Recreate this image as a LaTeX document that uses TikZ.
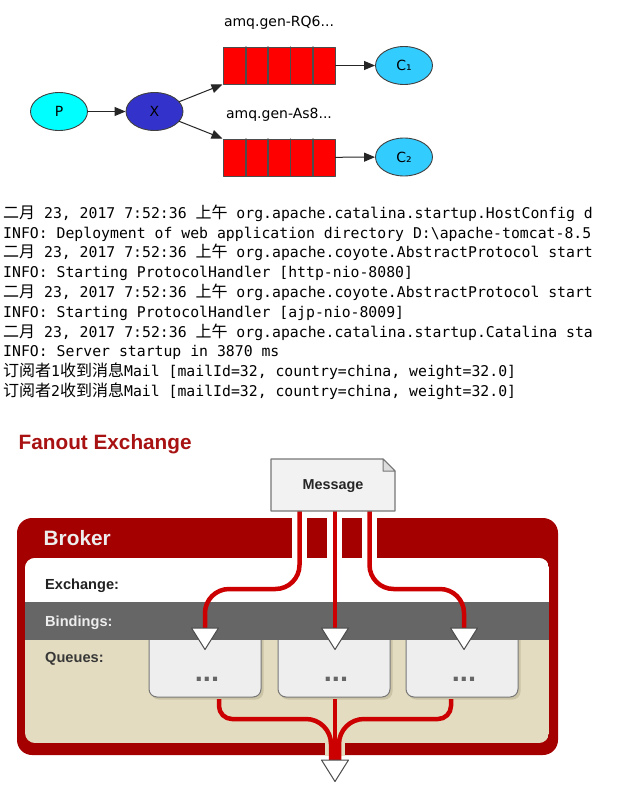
\documentclass[tikz,border=0pt]{standalone}
\usepackage{fontspec}
\setmainfont{Liberation Sans}
\newfontfamily\dejavu{DejaVu Sans}
\newfontfamily\logmono{DejaVu Sans Mono}
\newfontfamily\cjkfont{Noto Sans CJK SC}
\usepackage{tikz}
\usetikzlibrary{arrows.meta,shapes.geometric}

\definecolor{brokerred}{HTML}{A50000}
\definecolor{wirered}{HTML}{CC0000}
\definecolor{titlered}{HTML}{A81212}
\definecolor{bandgray}{HTML}{666666}
\definecolor{queuebeige}{HTML}{E3DCC0}
\definecolor{shadebeige}{HTML}{CBC3A5}
\definecolor{boxgray}{HTML}{EEEEEE}
\definecolor{edgegray}{HTML}{777777}
\definecolor{msgfill}{HTML}{F2F2F2}
\definecolor{foldgray}{HTML}{DDDDDD}
\definecolor{pcyan}{HTML}{00FFFF}
\definecolor{xblue}{HTML}{3333CC}
\definecolor{cblue}{HTML}{33CCFF}

\newcommand{\zh}[1]{{\cjkfont\fontsize{16}{20}\selectfont #1}}

\begin{document}
\begin{tikzpicture}[
			x=1pt,
			y=-1pt,
			line cap=round,
			line join=round,
			every node/.style={inner sep=0pt},
			peer/.style={ellipse,draw=black!75,line width=0.9pt,minimum width=57pt,minimum height=38pt,font=\dejavu\fontsize{14}{16}\selectfont},
			qcells/.style={draw=black!70,fill=red,line width=1pt,minimum width=112pt,minimum height=37pt},
			qname/.style={font=\dejavu\fontsize{14}{16}\selectfont},
			flow/.style={-{Triangle[length=11pt,width=9pt]},line width=1pt,draw=black!85},
			logline/.style={anchor=base west,font=\logmono\fontsize{14.8}{19.8}\selectfont},
			wire/.style={draw=wirered,line width=4.5pt,line cap=butt},
			droptip/.style={fill=white,draw=black!70,line width=1pt},
			boxlbl/.style={anchor=base west,font=\bfseries\fontsize{14.6}{16}\selectfont},
			qdots/.style={anchor=base,text=bandgray,font=\bfseries\fontsize{29}{30}\selectfont}
			]
			
			\def\TipHalf{13.5}
			\def\TipDrop{21.5}
			
			\newcommand{\DropTip}[2]{%
				\draw[droptip] (#1-\TipHalf,#2) -- (#1+\TipHalf,#2) -- (#1,#2+\TipDrop) -- cycle;
			}
			
			\useasboundingbox (0,0) rectangle (639,785);
			\fill[white] (0,0) rectangle (639,785);
			
			% Fanout graph
			\node[peer,fill=pcyan] (P) at (59,111.5) {P};
			\node[peer,fill=xblue] (X) at (154.5,111.5) {X};
			\node[qcells] (q1) at (279,65.5) {};
			\node[qcells] (q2) at (279,157.5) {};
			\foreach \dx in {23,45,67.5,90} {
				\draw[black!70,line width=1.2pt] (223+\dx,47) -- (223+\dx,84);
				\draw[black!70,line width=1.2pt] (223+\dx,139) -- (223+\dx,176);
			}
			\node[qname] (nq1) at (279,23) {amq.gen-RQ6...};
			\node[qname] (nq2) at (279,115) {amq.gen-As8...};
			\node[peer,fill=cblue] (C1) at (404,65.5) {C₁};
			\node[peer,fill=cblue] (C2) at (404,157) {C₂};
			\draw[flow] (P) -- (X);
			\draw[flow] (X) -- (q1.south west);
			\draw[flow] (X) -- (q2.north west);
			\draw[flow] (q1) -- (C1);
			\draw[flow] (q2) -- (C2);
			
			% Console output
			\begin{scope}
				\clip (0,195) rectangle (591,405);
				\node[logline] (log1) at (3,218.3) {\zh{二月} 23, 2017 7:52:36 \zh{上午} org.apache.catalina.startup.HostConfig d};
				\node[logline] (log2) at (3,238.1) {INFO: Deployment of web application directory D:\textbackslash apache-tomcat-8.5};
				\node[logline] (log3) at (3,257.9) {\zh{二月} 23, 2017 7:52:36 \zh{上午} org.apache.coyote.AbstractProtocol start};
				\node[logline] (log4) at (3,277.7) {INFO: Starting ProtocolHandler [http-nio-8080]};
				\node[logline] (log5) at (3,297.5) {\zh{二月} 23, 2017 7:52:36 \zh{上午} org.apache.coyote.AbstractProtocol start};
				\node[logline] (log6) at (3,317.3) {INFO: Starting ProtocolHandler [ajp-nio-8009]};
				\node[logline] (log7) at (3,337.1) {\zh{二月} 23, 2017 7:52:36 \zh{上午} org.apache.catalina.startup.Catalina sta};
				\node[logline] (log8) at (3,356.9) {INFO: Server startup in 3870 ms};
				\node[logline] (log9) at (3,376.7) {\zh{订阅者}1\zh{收到消息}Mail [mailId=32, country=china, weight=32.0]};
				\node[logline] (log10) at (3,396.5) {\zh{订阅者}2\zh{收到消息}Mail [mailId=32, country=china, weight=32.0]};
			\end{scope}
			
			% Broker
			\node[anchor=base west,text=titlered,font=\bfseries\fontsize{20.75}{22}\selectfont] (title) at (18.5,449.5) {Fanout Exchange};
			\fill[brokerred,rounded corners=15pt] (17,518) rectangle (558,755);
			\begin{scope}
				\clip[rounded corners=10pt] (25,558) rectangle (549,743);
				\fill[queuebeige] (25,558) rectangle (549,743);
				\fill[white] (25,558) rectangle (549,602);
				\foreach \qx in {149,278,406} {
					\fill[shadebeige,rounded corners=8pt] (\qx+2,628) rectangle (\qx+114.5,699.5);
					\draw[edgegray,fill=boxgray,line width=1pt,rounded corners=8pt] (\qx,625) rectangle (\qx+112,697);
					\node[qdots] (dots\qx) at (\qx+58,681) {...};
				}
				\fill[bandgray] (25,602) rectangle (549,640);
			\end{scope}
			\fill[queuebeige] (325,741) rectangle (345,756);
			\foreach \gx in {292,327,362} {
				\fill[white] (\gx,517) rectangle (\gx+15,558.5);
			}
			\node[boxlbl,text=white!93!black,font=\bfseries\fontsize{20.8}{22}\selectfont] (broker) at (43.5,545) {Broker};
			\node[boxlbl,text=black!87] (exch) at (45,589.3) {Exchange:};
			\node[boxlbl,text=white!93!black] (bind) at (45,626) {Bindings:};
			\node[boxlbl,text=black!78] (queues) at (45,662) {Queues:};
			
			% Wires
			\coordinate (m1) at (299.5,511);
			\coordinate (m2) at (335,511);
			\coordinate (m3) at (369.5,511);
			\coordinate (t1) at (205,628);
			\coordinate (t2) at (335,628);
			\coordinate (t3) at (464,628);
			\coordinate (out) at (335,760);
			\draw[wire] (m1) -- (299.5,565) .. controls (299.5,578.2) and (288.8,589) .. (275.5,589) -- (229,589) .. controls (215.8,589) and (205,599.8) .. (205,613) -- ([yshift=-2pt]t1);
			\draw[wire] (m2) -- ([yshift=-2pt]t2);
			\draw[wire] (m3) -- (369.5,565) .. controls (369.5,578.2) and (380.2,589) .. (393.5,589) -- (440,589) .. controls (453.2,589) and (464,599.8) .. (464,613) -- ([yshift=-2pt]t3);
			\draw[wire] (219,699) -- (219,706) .. controls (219,713.2) and (224.8,719) .. (232,719) -- (306,719) .. controls (319.8,719) and (331,730.2) .. (331,744) -- ([xshift=-4pt,yshift=-2pt]out);
			\draw[wire] (335,699) -- ([yshift=-2pt]out);
			\draw[wire] (451,699) -- (451,706) .. controls (451,713.2) and (445.2,719) .. (438,719) -- (364,719) .. controls (350.2,719) and (339,730.2) .. (339,744) -- ([xshift=4pt,yshift=-2pt]out);
			
			% Drop tips
			\DropTip{205}{628}
			\DropTip{335}{628}
			\DropTip{464}{628}
			\DropTip{335}{760}
			
			% Message
			\fill[msgfill] (271,459) -- (383,459) -- (395,471) -- (395,511) -- (271,511) -- cycle;
			\draw[edgegray,line width=1.2pt] (271,459) -- (383,459) -- (395,471) -- (395,511) -- (271,511) -- cycle;
			\draw[edgegray,fill=foldgray,line width=1pt] (383,459) -- (383,471) -- (395,471) -- cycle;
			\node[font=\bfseries\fontsize{14.4}{16}\selectfont,text=black!85] (msg) at (333,486) {Message};
			
		\end{tikzpicture}
\end{document}
